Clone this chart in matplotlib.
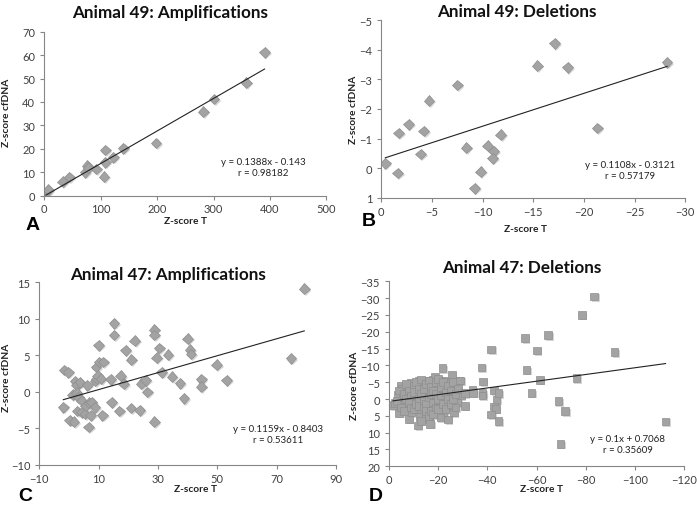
import matplotlib.pyplot as plt
import matplotlib.patheffects as pe
import numpy as np

# Panel A: Animal 49 amplifications
a_x = [3, 7, 32.5, 44, 72, 76, 78, 92, 106, 108, 108, 122.5, 140, 198, 282, 301, 358, 390.5]
a_y = [1.5, 2.5, 6.0, 8.0, 10.0, 12.8, 12.0, 11.4, 8.1, 14.2, 19.5, 16.4, 20.3, 22.5, 35.9, 41.3, 48.2, 61.2]
a_fit = (0.1388, -0.143)
a_text = ['y = 0.1388x - 0.143', 'r = 0.98182']

# Panel B: Animal 49 deletions
b_x = [-0.4, -1.6, -1.7, -2.7, -3.9, -4.2, -4.7, -7.5, -8.4, -9.2, -9.8, -10.5, -11.1, -11.0,
       -11.8, -15.4, -17.1, -18.4, -21.3, -28.2]
b_y = [-0.17, 0.16, -1.19, -1.48, -0.48, -1.26, -2.28, -2.81, -0.70, 0.67, 0.11, -0.76, -0.57,
       -0.34, -1.13, -3.46, -4.21, -3.40, -1.36, -3.57]
b_fit = (0.1108, -0.3121)
b_text = ['y = 0.1108x - 0.3121', 'r = 0.57179']

# Panel C: Animal 47 amplifications
c_x = [-1.9, -1.6, -0.2, 0.3, 1.7, 1.2, 2.0, 2.6, 2.6, 3.1, 2.8, 3.7, 4.3, 4.3, 5.4, 5.7, 6.2, 6.9,
       6.6, 7.3, 7.6, 8.8, 8.8, 9.1, 9.3, 9.7, 10.0, 10.2, 10.8, 11.3, 11.6, 14.0, 14.4, 15.2, 15.2,
       17.0, 17.4, 18.5, 19.1, 20.9, 21.0, 22.2, 23.9, 24.4, 25.8, 26.4, 28.7, 28.8, 28.8, 29.6,
       30.4, 31.3, 33.4, 34.7, 37.4, 38.8, 40.0, 40.8, 41.1, 44.6, 44.6, 49.8, 53.1, 74.8, 79.3]
c_y = [-2.1, 3.0, 2.7, -3.9, -4.1, -0.4, 1.5, 0.9, -0.1, -0.7, -2.6, 1.3, -1.2, -2.8, -3.0, -1.9,
       0.9, -1.5, -4.8, -3.2, -1.4, -2.1, 1.5, 3.4, 1.8, 2.2, 6.4, 4.1, 1.8, -3.2, 4.1, 1.7, -1.4,
       9.4, 7.8, -2.6, 2.2, 1.1, 5.7, -2.2, 4.4, 7.0, -2.5, 1.1, 1.6, 0.0, 8.5, 7.8, -4.1, 4.7,
       6.0, 2.7, 5.1, 2.1, 1.2, -0.9, 7.3, 5.8, 5.2, 1.7, 0.7, 3.7, 1.6, 4.6, 14.1]
c_fit = (0.1159, -0.8403)
c_text = ['y = 0.1159x - 0.8403', 'r = 0.53611']

# Panel D: Animal 47 deletions
d_x = [-1.6, -2.3, -3.7, -4.1, -4.7, -5.3, -5.7, -6.6, -7.5, -7.7, -8.1, -8.8, -9.1, -9.8, -10.4,
       -11.1, -11.8, -12.1, -12.5, -12.9, -13.4, -13.8, -14.5, -14.8, -15.2, -15.9, -16.3, -16.8,
       -17.2, -17.9, -18.3, -18.8, -19.3, -19.7, -20.2, -20.6, -21.3, -21.7, -22.0, -22.6, -23.3,
       -23.7, -24.0, -24.7, -25.6, -26.4, -26.7, -27.4, -27.8, -28.7, -29.2,
       -3, -4, -5, -6, -6, -7, -7, -8, -8, -9, -9, -10, -10, -10, -11, -11, -12, -12, -12, -13, -13,
       -13, -14, -14, -14, -15, -15, -15, -16, -16, -16, -17, -17, -17, -18, -18, -18, -19, -19,
       -19, -20, -20, -20, -21, -21, -21, -22, -22, -23, -23, -24, -24, -25, -25, -26, -26, -27,
       -27, -28, -29,
       -30.8, -30.8, -33.9, -34.2, -37.6, -38.2, -38.0, -38.0, -41.6, -42.6, -43.7, -44.6, -42.6,
       -43.4, -41.6, -44.6, -55.2, -56.0, -57.9, -60.2, -61.3, -64.7, -69.0, -69.8, -71.7, -76.2,
       -78.5, -83.4, -91.8, -112.5]
d_y = [1.8, 1.2, -1.3, 4.1, -4.0, -3.0, -0.5, 1.5, -1.8, 2.0, 5.9, -4.8, 4.0, -3.0, 0.5, -1.0,
       7.9, -5.5, 5.4, 3.0, -3.5, 1.0, -5.5, 4.4, -1.0, -2.5, 6.1, 7.4, 2.0, -5.7, -0.5, -6.5, 0.5,
       -4.0, -2.0, -5.5, 1.5, -9.2, 4.0, -3.0, -1.0, -5.5, 6.1, 2.0, -7.2, 4.0, -3.0, -0.5, 1.0,
       -5.5, -1.0,
       0.5, -2.5, 2.5, -1.5, 3.5, -4.5, 0, -2.5, 1, -1, 2.5, -4, -2, 3, 1.5, -5, -3, 0, 2, -5.8,
       -1.5, 6.5, -3, 0.5, 2.5, -4.5, 1.5, 3.5, -5.5, -0.5, 5, -3.5, -1.5, 3.5, -2.5, 1, 4.5, -5,
       -1.5, 2.5, -6, 0, 3, -3.5, -1, 5.5, -5, 1.5, -2, 3, -4, 0, -2.5, 1.5, -5, 0, -1.5, 2.5, -3,
       -5.5,
       -1.7, 2.0, -2.7, -1.8, -9.4, -5.2, -1.7, -1.0, -14.7, -2.5, 0.2, -1.7, 2.2, 2.9, 4.6, 6.6,
       -18.1, -8.7, -1.8, -14.4, -5.7, -19.0, 0.6, 13.3, 3.6, -6.2, -25.0, -30.5, -13.9, 6.7]
d_fit = (0.1, 0.7068)
d_text = ['y = 0.1x + 0.7068', 'r = 0.35609']

W, H = 697, 506
fig = plt.figure(figsize=(W / 100, H / 100), dpi=100)

axis_gray = '#868686'
tick_gray = '#404040'
shadow = [pe.SimplePatchShadow(offset=(1.2, -1.2), shadow_rgbFace='#bbbbbb', alpha=0.6), pe.Normal()]


def px_axes(l, r, t, b):
    return fig.add_axes([l / W, 1 - b / H, (r - l) / W, (b - t) / H])


def ftext(x, y, s, **kw):
    # place text by reference pixel position (from top-left)
    return fig.text(x / W, 1 - y / H, s, ha='center', va='center', **kw)


def style(ax, title, title_xy, letter, letter_xy, eq, eq_xy, xl_xy, yl_xy):
    for s in ['top', 'right']:
        ax.spines[s].set_visible(False)
    for s in ['left', 'bottom']:
        ax.spines[s].set_color(axis_gray)
        ax.spines[s].set_linewidth(0.8)
    ax.tick_params(direction='out', length=3, width=0.8, color=axis_gray,
                   labelsize=8, labelcolor=tick_gray)
    ax.tick_params(axis='x', pad=2.5)
    for lab in ax.get_xticklabels() + ax.get_yticklabels():
        lab.set_family('Lato')
    ftext(*title_xy, title, fontsize=12.3, fontweight='bold', family='Lato', color='#111111')
    ftext(*letter_xy, letter, fontsize=14, fontweight='bold', family='Liberation Sans', color='black')
    ftext(*eq_xy, eq[0] + '\n' + eq[1], fontsize=7, family='Lato', color='#222222', linespacing=1.4)
    ftext(*xl_xy, 'Z-score T', fontsize=7.3, fontweight='bold', family='Lato', color='#222222')
    ftext(*yl_xy, 'Z-score cfDNA', rotation=90, fontsize=7.3, fontweight='bold', family='Lato',
          color='#222222')


def fit_line(ax, x, fit):
    xs = np.array([min(x), max(x)])
    ax.plot(xs, fit[0] * xs + fit[1], color='#222222', lw=0.8, zorder=3)


dkw = dict(marker='D', ls='none', ms=5.5, mfc='#a3a3a3', mec='#8e8e8e', mew=0.5,
           path_effects=shadow, zorder=2)

# A
axA = px_axes(44.3, 326.3, 32.7, 196.7)
axA.plot(a_x, a_y, **dkw)
fit_line(axA, a_x, a_fit)
axA.set_xlim(0, 500)
axA.set_ylim(0, 70)
axA.set_xticks(np.arange(0, 501, 100))
axA.set_yticks(np.arange(0, 71, 10))
style(axA, 'Animal 49: Amplifications', (170, 13), 'A', (33, 226), a_text, (263, 168),
      (185, 222), (7, 113))

# B
axB = px_axes(381.3, 685.3, 21, 199)
axB.plot(b_x, b_y, **dkw)
fit_line(axB, b_x, b_fit)
axB.set_xlim(0, -30)
axB.set_ylim(1, -5)
axB.set_xticks(np.arange(0, -31, -5))
axB.set_yticks(np.arange(-5, 2, 1))
style(axB, 'Animal 49: Deletions', (517, 12), 'B', (369, 222), b_text, (630, 171),
      (526, 229), (354, 110))

# C
axC = px_axes(39.3, 336, 283.3, 466)
axC.plot(c_x, c_y, **dkw)
fit_line(axC, c_x, c_fit)
axC.set_xlim(-10, 90)
axC.set_ylim(-10, 15)
axC.set_xticks(np.arange(-10, 91, 20))
axC.set_yticks(np.arange(-10, 16, 5))
style(axC, 'Animal 47: Amplifications', (168, 275), 'C', (25, 497), c_text, (278, 435),
      (195, 490), (7, 378))

# D
axD = px_axes(389, 684, 282.3, 467.3)
axD.plot(d_x, d_y, marker='s', ls='none', ms=5.5, mfc='#a3a3a3', mec='#8e8e8e', mew=0.5,
         path_effects=shadow, zorder=2)
fit_line(axD, d_x, d_fit)
axD.set_xlim(0, -120)
axD.set_ylim(20, -35)
axD.set_xticks(np.arange(0, -121, -20))
axD.set_yticks(np.arange(-35, 21, 5))
style(axD, 'Animal 47: Deletions', (522, 268), 'D', (376, 497), d_text, (628, 445),
      (541, 490), (355, 386))

fig.savefig('out.png', dpi=100)
